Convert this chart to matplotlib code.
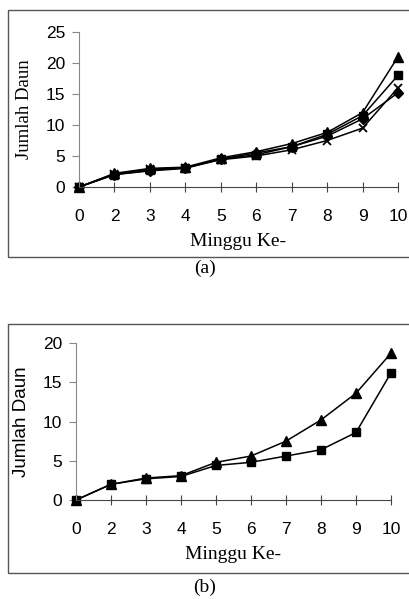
import numpy as np
import matplotlib
matplotlib.use("Agg")
import matplotlib.pyplot as plt
from matplotlib.patches import Rectangle

# data
minggu = ["0", "2", "3", "4", "5", "6", "7", "8", "9", "10"]
a_segitiga = [0, 2.2, 3.0, 3.2, 4.7, 5.7, 7.0, 8.8, 12.0, 21.0]
a_kotak = [0, 2.0, 2.7, 3.1, 4.5, 5.2, 6.5, 8.5, 11.5, 18.0]
a_silang = [0, 2.1, 2.9, 3.1, 4.4, 5.0, 6.0, 7.5, 9.5, 16.0]
a_belah = [0, 2.0, 2.6, 3.0, 4.5, 5.5, 6.5, 8.2, 11.0, 15.2]
b_segitiga = [0, 2.0, 2.8, 3.1, 4.8, 5.6, 7.5, 10.2, 13.6, 18.7]
b_kotak = [0, 2.0, 2.7, 3.0, 4.4, 4.8, 5.6, 6.4, 8.6, 16.2]

sans = "Liberation Sans"
serif = "Liberation Serif"

fig = plt.figure(figsize=(4.09, 5.99), dpi=100)

# kotak bingkai tiap panel
fig.patches.append(Rectangle((8/409, 1-257/599), 1.0, (257-10)/599, transform=fig.transFigure,
                             fill=False, edgecolor="#555555", lw=1.0))
fig.patches.append(Rectangle((8/409, 1-573/599), 1.0, (573-324)/599, transform=fig.transFigure,
                             fill=False, edgecolor="#555555", lw=1.0))


def gaya_sumbu(ax, ymax, ystep, ylabel_font):
    x = np.arange(len(minggu))
    ax.set_xlim(0, len(minggu) - 1)
    ax.set_ylim(0, ymax)
    ax.set_xticks(x)
    ax.set_xticklabels(minggu, fontfamily=sans, fontsize=12.5)
    ax.set_yticks(np.arange(0, ymax + 1, ystep))
    for t in ax.get_yticklabels():
        t.set_fontfamily(sans)
        t.set_fontsize(12.5)
    ax.spines["top"].set_visible(False)
    ax.spines["right"].set_visible(False)
    ax.spines["left"].set_color("#888888")
    ax.spines["bottom"].set_color("#444444")
    ax.tick_params(axis="x", direction="inout", length=7, width=0.8, color="#444444", pad=12)
    ax.tick_params(axis="y", direction="out", length=5, width=0.8, color="#888888", pad=5)
    ax.set_xlabel("Minggu Ke-", fontfamily=serif, fontsize=14, labelpad=7)
    ax.set_ylabel("Jumlah Daun", fontfamily=ylabel_font, fontsize=13.5, labelpad=9)
    return x


# panel (a)
ax1 = fig.add_axes([79/409, 1-187/599, (398-79)/409, (187-32)/599])
x = gaya_sumbu(ax1, 25, 5, serif)
gaya = dict(color="black", lw=1.1, clip_on=False)
ax1.plot(x, a_belah, marker="D", ms=5, **gaya)
ax1.plot(x, a_silang, marker="x", ms=6, mew=1.3, **gaya)
ax1.plot(x, a_segitiga, marker="^", ms=6.5, **gaya)
ax1.plot(x, a_kotak, marker="s", ms=5.5, **gaya)
fig.text(205/409, 1-268/599, "(a)", ha="center", va="center", fontfamily=serif, fontsize=14)

# panel (b)
ax2 = fig.add_axes([76/409, 1-500/599, (391-76)/409, (500-343)/599])
x = gaya_sumbu(ax2, 20, 5, sans)
ax2.plot(x, b_segitiga, marker="^", ms=6.5, **gaya)
ax2.plot(x, b_kotak, marker="s", ms=5.5, **gaya)
fig.text(205/409, 1-587/599, "(b)", ha="center", va="center", fontfamily=serif, fontsize=14)

fig.savefig("out.png", dpi=100)
